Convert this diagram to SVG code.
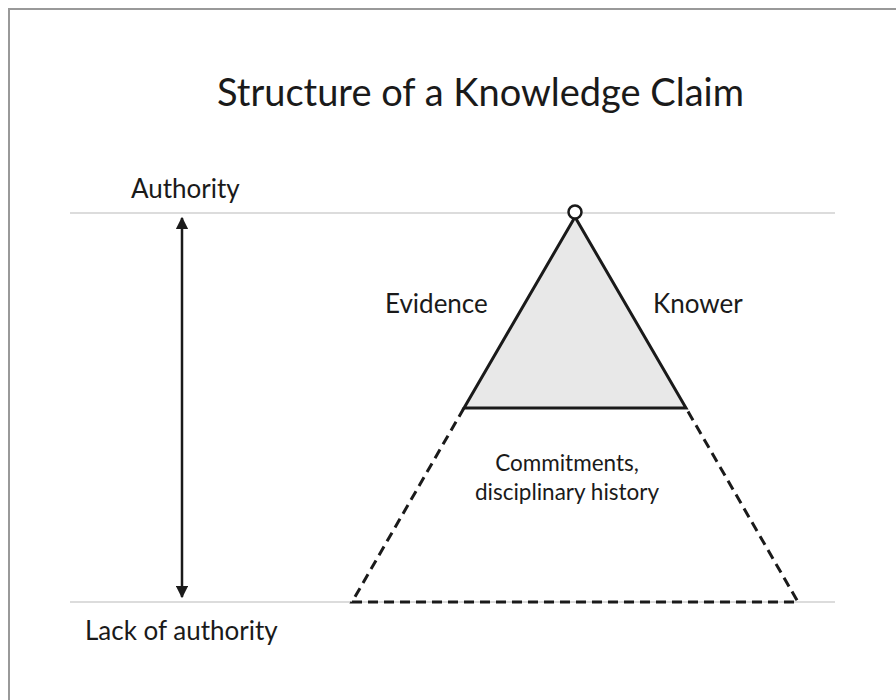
<svg xmlns="http://www.w3.org/2000/svg" width="896" height="700" viewBox="0 0 896 700">
  <defs>
    <style>
      .lbl { font-family: Lato, "Noto Sans", "Liberation Sans", sans-serif; fill: #1a1a1a; font-size: 26px; }
      .title { font-size: 38px; }
      .small { font-size: 22.5px; }
      .guide { stroke: #dcdcdc; stroke-width: 2; fill: none; }
      .solid { stroke: #1a1a1a; stroke-width: 3; stroke-linejoin: miter; }
      .dash { stroke: #1a1a1a; stroke-width: 3; fill: none; stroke-dasharray: 10 6; }
    </style>
    <marker id="head" viewBox="0 0 10 10" refX="9" refY="5" markerWidth="5" markerHeight="5" orient="auto-start-reverse">
      <path d="M0,0 L10,5 L0,10 Z" fill="#1a1a1a"/>
    </marker>
  </defs>
  <rect width="896" height="700" fill="#ffffff"/>
  <!-- outer frame -->
  <rect x="9" y="9" width="900" height="700" fill="none" stroke="#999999" stroke-width="2"/>

  <text class="lbl title" x="217" y="106">Structure of a Knowledge Claim</text>

  <!-- authority scale -->
  <g id="scale">
    <line class="guide" x1="70" y1="213" x2="835" y2="213"/>
    <line class="guide" x1="70" y1="602" x2="835" y2="602"/>
    <text class="lbl" x="131" y="198">Authority</text>
    <text class="lbl" x="85" y="640">Lack of authority</text>
  </g>

  <g id="connectors">
    <line x1="182" y1="218" x2="182" y2="597" stroke="#1a1a1a" stroke-width="2.5" marker-start="url(#head)" marker-end="url(#head)"/>
  </g>

  <!-- lower trapezoid: commitments -->
  <g id="commitments">
    <polyline class="dash" points="464,408 352,602 798,602 686,408"/>
    <text class="lbl small" x="567" y="471" text-anchor="middle">Commitments,</text>
    <text class="lbl small" x="567" y="500" text-anchor="middle">disciplinary history</text>
  </g>

  <!-- upper triangle: evidence / knower -->
  <g id="claim">
    <polygon class="solid" points="575,217 464,408 686,408" fill="#e8e8e8"/>
    <circle cx="575" cy="212" r="6.5" fill="#ffffff" stroke="#1a1a1a" stroke-width="2.5"/>
    <text class="lbl" x="385" y="313">Evidence</text>
    <text class="lbl" x="653" y="313">Knower</text>
  </g>
</svg>
